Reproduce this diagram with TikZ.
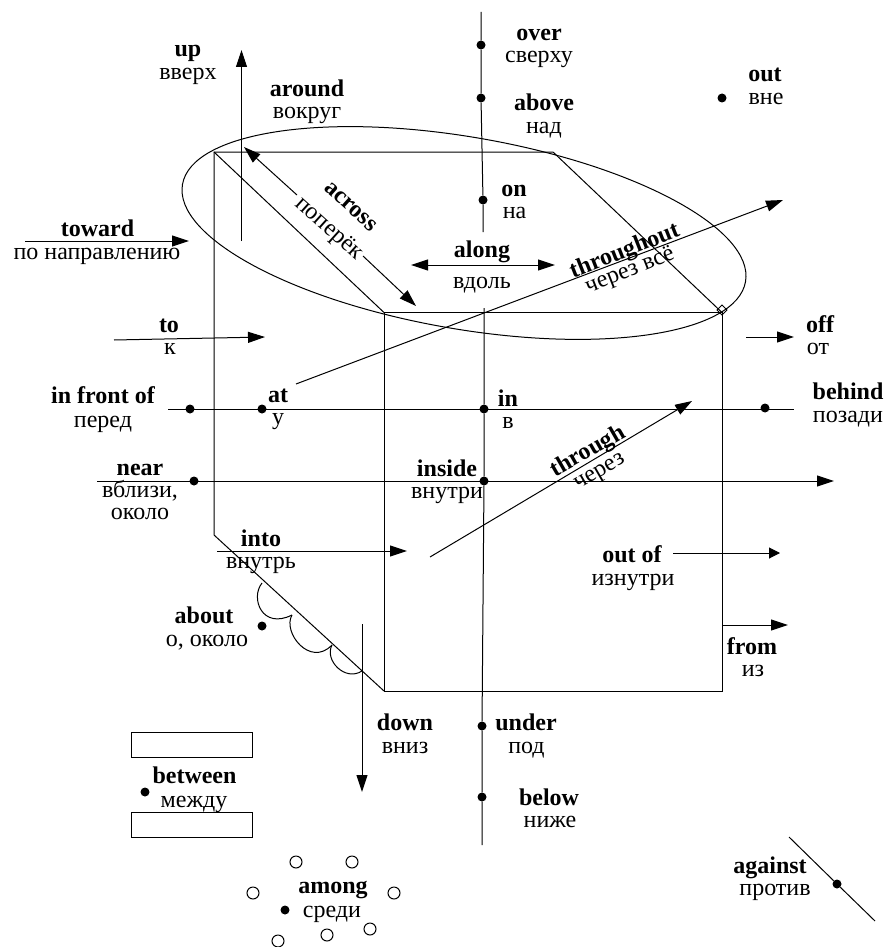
\documentclass[tikz,border=0pt]{standalone}
\usepackage{fontspec}
\setmainfont{Liberation Serif}
\usetikzlibrary{arrows.meta}
\tikzset{
  lat/.style={font=\fontsize{24}{26}\selectfont\bfseries,inner sep=0pt,anchor=base},
  rus/.style={font=\fontsize{24}{26}\selectfont,inner sep=0pt,anchor=base},
  dot/.style={circle,fill=black,inner sep=0pt,minimum size=9pt},
  ring/.style={circle,draw=black,line width=1pt,inner sep=0pt,minimum size=12pt},
  ln/.style={line width=1pt,draw=black},
  arr/.style={ln,-{Triangle[length=17pt,width=11pt]}},
  arrs/.style={ln,-{Triangle[length=11pt,width=11pt]}},
  darr/.style={ln,{Triangle[length=17pt,width=11pt]}-{Triangle[length=17pt,width=11pt]}},
}
\begin{document}
\begin{tikzpicture}[x=1pt,y=-1pt]
\useasboundingbox (0,0) rectangle (886,947);
% box corners
\coordinate (fTL) at (384,312.5); \coordinate (fTR) at (722,312.5);
\coordinate (fBR) at (722,691); \coordinate (fBL) at (384,691);
\coordinate (bTL) at (214,152); \coordinate (bTR) at (553,152);
\coordinate (bBL) at (214,535);
\draw[ln] (fTL)--(fTR)--(fBR)--(fBL)--cycle;
\draw[ln] (fBL)--(bBL)--(bTL)--(bTR)--(fTR);
\draw[ln] (bTL)--(fTL);
\draw[line width=.8pt] (722,305)--(727,310)--(722,315)--(717,310)--cycle;
% ellipse
\draw[line width=1pt,rotate around={-9.8:(464,233)}] (464,233) ellipse [x radius=285.7,y radius=96];
% dots
\node[dot] (dOver) at (481,45) {};
\node[dot] (dAbove) at (481,98) {};
\node[dot] (dOn) at (483,200) {};
\node[dot] (dOut) at (722,98) {};
\node[dot] (dFront) at (190,409) {};
\node[dot] (dAt) at (262,409) {};
\node[dot] (dIn) at (484,409) {};
\node[dot] (dBehind) at (765,408) {};
\node[dot] (dNear) at (194,481) {};
\node[dot] (dInside) at (484,481) {};
\node[dot] (dAbout) at (262,626) {};
\node[dot] (dUnder) at (482,726) {};
\node[dot] (dBelow) at (482,797) {};
\node[dot] (dBetween) at (145,792) {};
\node[dot] (dAmong) at (285,910) {};
\node[dot] (dAgainst) at (837,884) {};
% vertical axis
\coordinate (vTop) at (481,12); \coordinate (vGap1) at (483,232);
\coordinate (vGap2) at (484,308); \coordinate (vBot) at (482,845);
\draw[ln] (vTop)--(dOver)--(dAbove)--(dOn)--(vGap1);
\draw[ln] (vGap2)--(dIn)--(dInside)--(dUnder)--(dBelow)--(vBot);
% arrows
\coordinate (upS) at (241.5,241); \coordinate (upE) at (241.5,50);
\draw[arr] (upS)--(upE);
\coordinate (acA) at (244,147); \coordinate (acB) at (416,306);
\coordinate (acG1) at (297,195); \coordinate (acG2) at (363,256);
\draw[ln,{Triangle[length=17pt,width=11pt]}-] (acA)--(acG1);
\draw[arr] (acG2)--(acB);
\coordinate (alA) at (411,265); \coordinate (alB) at (555,265);
\draw[darr] (alA)--(alB);
\coordinate (thS) at (296,384); \coordinate (thE) at (783,200);
\draw[arr] (thS)--(thE);
\coordinate (towS) at (25,241); \coordinate (towE) at (189,241);
\draw[arr] (towS)--(towE);
\coordinate (toS) at (114,340); \coordinate (toE) at (265,337);
\draw[arr] (toS)--(toE);
\coordinate (frS) at (168,409); \coordinate (frE) at (794,409);
\draw[ln] (frS)--(frE);
\coordinate (nrS) at (97,481); \coordinate (nrE) at (834,481);
\draw[arr] (nrS)--(nrE);
\coordinate (inS) at (217,551); \coordinate (inE) at (407,551);
\draw[arr] (inS)--(inE);
\coordinate (trS) at (430,557); \coordinate (trE) at (692,401);
\draw[arr] (trS)--(trE);
\coordinate (ouS) at (673,553); \coordinate (ouE) at (780,553);
\draw[arrs] (ouS)--(ouE);
\coordinate (ofS) at (746,337); \coordinate (ofE) at (794,337);
\draw[arr] (ofS)--(ofE);
\coordinate (fmS) at (722,625); \coordinate (fmE) at (788,625);
\draw[arr] (fmS)--(fmE);
\coordinate (dnS) at (362,624); \coordinate (dnE) at (362,792);
\draw[arr] (dnS)--(dnE);
\coordinate (agS) at (789,837); \coordinate (agE) at (875,921);
\draw[ln] (agS)--(dAgainst)--(agE);
% scallops
\coordinate (sA) at (262,583); \coordinate (sB) at (292,615);
\coordinate (sC) at (332,645); \coordinate (sD) at (362,671);
\draw[line width=1pt] (sA) .. controls (250,598) and (262,630) .. (sB);
\draw[line width=1pt] (sB) .. controls (282,632) and (310,668) .. (sC);
\draw[line width=1pt] (sC) .. controls (324,660) and (345,682) .. (sD);
% between rectangles
\node[draw,line width=1pt,minimum width=121pt,minimum height=25pt,inner sep=0pt] (rTop) at (191.5,744.5) {};
\node[draw,line width=1pt,minimum width=121pt,minimum height=25pt,inner sep=0pt] (rBot) at (191.5,824.5) {};
% among rings
\node[ring] (r1) at (296,862) {};
\node[ring] (r2) at (352,862) {};
\node[ring] (r3) at (253,893) {};
\node[ring] (r4) at (394,893) {};
\node[ring] (r5) at (278,941) {};
\node[ring] (r6) at (327,935) {};
\node[ring] (r7) at (370,929) {};
% labels (base anchors)
\node[lat] (tOver) at (539,41) {over};
\node[rus] (tOverR) at (539,63) {сверху};
\node[lat] (tAbove) at (544,111) {above};
\node[rus] (tAboveR) at (544,134) {над};
\node[lat] (tOn) at (514,196) {on};
\node[rus] (tOnR) at (514.5,218) {на};
\node[lat] (tUp) at (188,57) {up};
\node[rus] (tUpR) at (188,80) {вверх};
\node[lat] (tAround) at (307,97) {around};
\node[rus] (tAroundR) at (307,119) {вокруг};
\node[lat] (tOut) at (765,82) {out};
\node[rus] (tOutR) at (766,105) {вне};
\node[lat] (tToward) at (97.5,236) {toward};
\node[rus] (tTowardR) at (97,259) {по направлению};
\node[lat] (tAlong) at (482,257) {along};
\node[rus] (tAlongR) at (482,288) {вдоль};
\node[lat] (tTo) at (169,332) {to};
\node[rus] (tToR) at (170,354) {к};
\node[lat] (tOff) at (820,332) {off};
\node[rus] (tOffR) at (818,354) {от};
\node[lat] (tFront) at (103,403) {in front of};
\node[rus] (tFrontR) at (103,427) {перед};
\node[lat] (tAt) at (278,402) {at};
\node[rus] (tAtR) at (278,424) {у};
\node[lat] (tIn) at (508,406) {in};
\node[rus] (tInR) at (508,428) {в};
\node[lat] (tBehind) at (848,399) {behind};
\node[rus] (tBehindR) at (848,422) {позади};
\node[lat] (tNear) at (140,475) {near};
\node[rus] (tNearR) at (140,497) {вблизи,};
\node[rus] (tNearR2) at (140,519) {около};
\node[lat] (tInside) at (447,476) {inside};
\node[rus] (tInsideR) at (447,498) {внутри};
\node[lat] (tInto) at (261,546) {into};
\node[rus] (tIntoR) at (261,568) {внутрь};
\node[lat] (tOutOf) at (632,562) {out of};
\node[rus] (tOutOfR) at (633,585) {изнутри};
\node[lat] (tAbout) at (204,623) {about};
\node[rus] (tAboutR) at (207,646) {о, около};
\node[lat] (tFrom) at (752,654) {from};
\node[rus] (tFromR) at (753,676) {из};
\node[lat] (tDown) at (405,730) {down};
\node[rus] (tDownR) at (405,753) {вниз};
\node[lat] (tUnder) at (526,730) {under};
\node[rus] (tUnderR) at (526.5,753) {под};
\node[lat] (tBelow) at (549,805) {below};
\node[rus] (tBelowR) at (550,827) {ниже};
\node[lat] (tBetween) at (194.5,783) {between};
\node[rus] (tBetweenR) at (194,807) {между};
\node[lat] (tAmong) at (333,893) {among};
\node[rus] (tAmongR) at (332,917) {среди};
\node[lat] (tAgainst) at (770,873) {against};
\node[rus] (tAgainstR) at (775,895) {против};
% rotated labels
\node[lat,rotate=-42] (tAcross) at (347,211) {across};
\node[rus,rotate=-42] (tAcrossR) at (325,233) {поперёк};
\node[lat,rotate=21.5] (tThroughout) at (627,257) {throughout};
\node[rus,rotate=21.5] (tThroughoutR) at (632,276) {через всё};
\node[lat,rotate=30] (tThrough) at (591,457) {through};
\node[rus,rotate=30] (tThroughR) at (602,476) {через};
\end{tikzpicture}
\end{document}
